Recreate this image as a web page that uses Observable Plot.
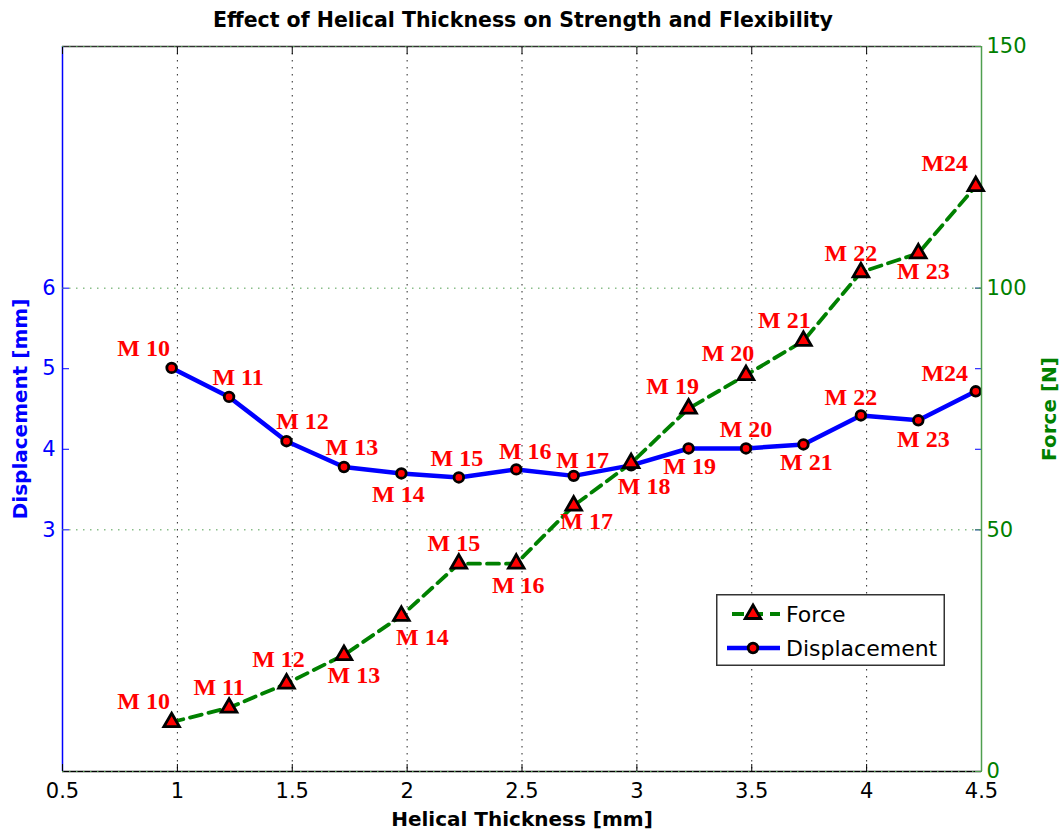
<!DOCTYPE html>
<html>
<head>
<meta charset="utf-8">
<script src="https://cdn.jsdelivr.net/npm/d3@7"></script>
<script src="https://cdn.jsdelivr.net/npm/@observablehq/plot@0.6"></script>
<style>
  body { margin: 0; background: #fff; }
  #wrap { position: relative; width: 1063px; height: 832px; overflow: hidden; background: #fff; }
  #wrap > svg.plotlayer { position: absolute; left: 0; top: 0; }
  #title { position: absolute; left: 0; top: 10px; width: 1046px; text-align: center;
           font: bold 20.5px "DejaVu Sans", sans-serif; line-height: 1; color: #000; }
  #wrap > svg#legend { position: absolute; left: 716px; top: 594px; }
</style>
</head>
<body>
<div id="wrap">
  <div id="title">Effect of Helical Thickness on Strength and Flexibility</div>
</div>
<script>
// ---------------- data ----------------
const thickness    = [0.975, 1.225, 1.475, 1.725, 1.975, 2.225, 2.475, 2.725, 2.975, 3.225, 3.475, 3.725, 3.975, 4.225, 4.475];
const models       = ["M 10","M 11","M 12","M 13","M 14","M 15","M 16","M 17","M 18","M 19","M 20","M 21","M 22","M 23","M24"];
const displacement = [5.01, 4.65, 4.10, 3.78, 3.70, 3.65, 3.75, 3.67, 3.80, 4.01, 4.01, 4.06, 4.42, 4.36, 4.72];
const force        = [10.2, 13.2, 18.2, 24.1, 32.2, 43.0, 43.0, 55.0, 63.8, 75.1, 82.0, 89.1, 103.3, 107.2, 121.1];
const xTicks       = [0.5, 1, 1.5, 2, 2.5, 3, 3.5, 4, 4.5];
const dispTicks    = [3, 4, 5, 6];
const forceTicks   = [0, 50, 100, 150];
const seriesNames  = ["Force", "Displacement"];

// label placement (pixel offsets of each point label, layout only)
const dispLabelOffsets  = [[-28,-20],[9,-20],[16,-20],[8,-20],[-3,21],[-2,-19],[9,-18],[9,-16],[13,21],[1,18],[0,-19],[3,18],[-10,-18],[5,19],[-31,-18]];
const forceLabelOffsets = [[-28,-21],[-10,-20],[-8,-24],[10,20],[21,21],[-5,-20],[2,22],[13,16],null,[-16,-22],[-18,-22],[-19,-21],[-10,-19],[5,18],[-31,-23]];

// ---------------- styling ----------------
const rows = thickness.map((t, i) => ({t, label: models[i], disp: displacement[i], force: force[i]}));
const sans = "DejaVu Sans";
const serif = "Liberation Serif";
const BLUE = "#0000ff", GREEN = "#008000", AXGREEN = "#4f9f4f", RED = "#ff0000";
const common = {
  width: 1063, height: 832,
  marginTop: 46, marginRight: 82, marginBottom: 61, marginLeft: 62,
  x: {domain: [xTicks[0], xTicks[xTicks.length - 1]], axis: null},
  className: "plotlayer",
  style: {background: "transparent", overflow: "visible"}
};
const labelStyle = {fill: RED, fontFamily: serif, fontWeight: "bold", fontSize: 24};
const dots = (fill) => ({fill, stroke: "#000", strokeWidth: 2.8});
const plain = (d) => `${d}`;

// Plot A: displacement (left axis)
const plotA = Plot.plot({
  ...common,
  y: {domain: [0, 9], axis: null},
  marks: [
    Plot.gridX(xTicks.slice(1, -1), {stroke: "#000", strokeOpacity: 0.85, strokeDasharray: "1.5,5.5"}),
    Plot.ruleY([0], {stroke: "#000", strokeWidth: 1.5}),
    Plot.ruleY([9], {stroke: "#333", strokeWidth: 1.5}),
    Plot.ruleX([xTicks[0]], {stroke: BLUE, strokeWidth: 1.5}),
    // inward x ticks (bottom & top)
    Plot.axisX({anchor: "bottom", ticks: xTicks, tickSize: 7, dy: -7, tickFormat: () => "", label: null, stroke: "#000"}),
    Plot.axisX({anchor: "top", ticks: xTicks, tickSize: 7, dy: 7, tickFormat: () => "", label: null, stroke: "#000"}),
    // x tick labels + title
    Plot.axisX({anchor: "bottom", ticks: xTicks, tickSize: 0, tickPadding: 12, tickFormat: plain, fontSize: 21, fontFamily: sans, fill: "#000",
                label: "Helical Thickness [mm]", labelAnchor: "center", labelArrow: "none", labelOffset: 54}),
    // left axis ticks inward, mirrored on right
    Plot.axisY({anchor: "left", ticks: dispTicks, tickSize: 7, dx: 7, tickFormat: () => "", label: null, stroke: BLUE}),
    Plot.axisY({anchor: "right", ticks: dispTicks, tickSize: 7, dx: -7, tickFormat: () => "", label: null, stroke: BLUE}),
    Plot.axisY({anchor: "left", ticks: dispTicks, tickSize: 0, tickPadding: 7, tickFormat: plain, fontSize: 21, fontFamily: sans, fill: BLUE,
                label: "Displacement [mm]", labelAnchor: "center", labelArrow: "none", labelOffset: 50}),
    Plot.line(rows, {x: "t", y: "disp", stroke: BLUE, strokeWidth: 4.5}),
    Plot.dot(rows, {x: "t", y: "disp", r: 4.8, symbol: "circle", ...dots(RED)}),
    ...rows.map((r, i) => dispLabelOffsets[i] ? Plot.text([r], {x: "t", y: "disp", text: "label", dx: dispLabelOffsets[i][0], dy: dispLabelOffsets[i][1], ...labelStyle}) : null)
  ]
});

// Plot B: force (right axis)
const plotB = Plot.plot({
  ...common,
  y: {domain: [forceTicks[0], forceTicks[forceTicks.length - 1]], axis: null},
  marks: [
    Plot.gridY(forceTicks, {stroke: AXGREEN, strokeOpacity: 1, strokeDasharray: "1.5,5.5"}),
    Plot.ruleX([xTicks[xTicks.length - 1]], {stroke: AXGREEN, strokeWidth: 1.5}),
    Plot.axisY({anchor: "right", ticks: forceTicks, tickSize: 7, dx: -7, tickFormat: () => "", label: null, stroke: AXGREEN}),
    Plot.axisY({anchor: "right", ticks: forceTicks, tickSize: 0, tickPadding: 5, tickFormat: plain, fontSize: 21, fontFamily: sans, fill: GREEN,
                label: "Force [N]", labelAnchor: "center", labelArrow: "none", labelOffset: 74}),
    Plot.line(rows, {x: "t", y: "force", stroke: GREEN, strokeWidth: 3.8, strokeDasharray: "12,7"}),
    Plot.dot(rows, {x: "t", y: "force", r: 5.8, symbol: "triangle", ...dots(RED)}),
    ...rows.map((r, i) => forceLabelOffsets[i] ? Plot.text([r], {x: "t", y: "force", text: "label", dx: forceLabelOffsets[i][0], dy: forceLabelOffsets[i][1], ...labelStyle}) : null)
  ]
});

// axis label styling (bold, coloured)
function styleLabels(svg, color) {
  svg.querySelectorAll("g[aria-label$='axis label'] text").forEach(t => {
    t.setAttribute("font-weight", "bold");
    t.setAttribute("font-size", "20");
    t.setAttribute("font-family", sans);
    if (color) t.setAttribute("fill", color);
  });
}
styleLabels(plotA);
plotA.querySelectorAll("g[aria-label='y-axis label'] text").forEach(t => t.setAttribute("fill", BLUE));
plotA.querySelectorAll("g[aria-label='x-axis label'] text").forEach(t => t.setAttribute("fill", "#000"));
styleLabels(plotB, GREEN);

const wrap = document.getElementById("wrap");
wrap.insertBefore(plotA, wrap.firstChild);
wrap.insertBefore(plotB, plotA.nextSibling);

// legend
const legend = d3.select(wrap).append("svg").attr("id", "legend").attr("width", 229).attr("height", 72);
legend.append("rect").attr("x", 0.75).attr("y", 0.75).attr("width", 227.5).attr("height", 70.5)
  .attr("fill", "#fff").attr("stroke", "#333").attr("stroke-width", 1.5);
const items = [
  {name: seriesNames[0], color: GREEN, dash: "12,7", sym: d3.symbolTriangle, r: 5.8, x1: 16, cy: 20},
  {name: seriesNames[1], color: BLUE, dash: null, sym: d3.symbolCircle, r: 4.8, x1: 11, cy: 54}
];
items.forEach(it => {
  legend.append("line").attr("x1", it.x1).attr("x2", 64).attr("y1", it.cy).attr("y2", it.cy)
    .attr("stroke", it.color).attr("stroke-width", it.dash ? 3.8 : 4.5).attr("stroke-dasharray", it.dash);
  legend.append("path").attr("d", d3.symbol(it.sym, Math.PI * it.r * it.r)())
    .attr("transform", `translate(37,${it.cy})`).attr("fill", RED).attr("stroke", "#000").attr("stroke-width", 2.8);
  legend.append("text").attr("x", 70).attr("y", it.cy).attr("dy", "0.36em")
    .attr("font-family", sans).attr("font-size", 22).attr("fill", "#000").text(it.name);
});
</script>
</body>
</html>
